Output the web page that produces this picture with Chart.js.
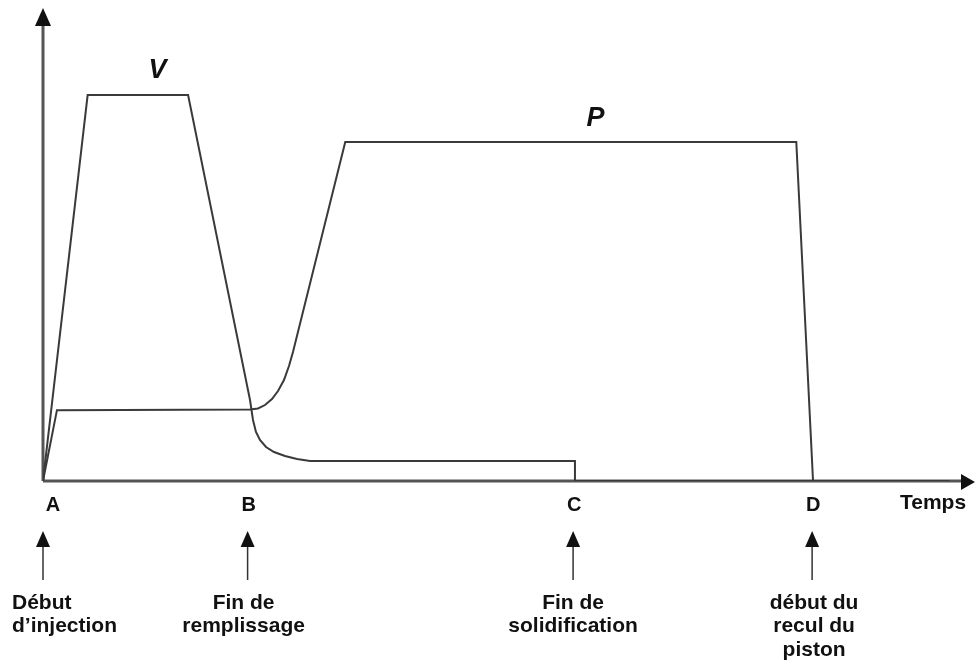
<!DOCTYPE html>
<html>
<head>
<meta charset="utf-8">
<script src="https://cdn.jsdelivr.net/npm/chart.js@4.4.1/dist/chart.umd.min.js"></script>
<style>
  html, body { margin: 0; padding: 0; background: #fff; }
  #wrap { width: 975px; height: 662px; position: relative; }
</style>
</head>
<body>
<div id="wrap"><canvas id="c"></canvas></div>
<script>
// time in arbitrary units (0 = A), value in % of full scale
const vTime = [0, 4.8, 15.6, 22.26, 22.58, 22.9, 23.33, 23.98, 24.84, 26.02, 27.31, 28.71, 57.2, 57.2, 97.5];
const vValue = [0, 82.3, 82.3, 17.27, 13.01, 10.45, 8.74, 7.25, 6.18, 5.33, 4.69, 4.26, 4.26, 0, 0];
const pTime = [0, 1.5, 22.26, 23.12, 23.87, 24.62, 25.27, 25.91, 26.45, 26.88, 32.5, 81.0, 82.8];
const pValue = [0, 15.1, 15.25, 15.46, 16.2, 17.48, 19.19, 21.54, 24.52, 27.51, 72.3, 72.3, 0];

const markerLabels = ['A', 'B', 'C', 'D'];
const markerTimes = [0, 22, 57, 82.7];
const markerNotes = [
    ['Début', 'd\u2019injection'],
    ['Fin de', 'remplissage'],
    ['Fin de', 'solidification'],
    ['début du', 'recul du', 'piston']
];
const axisTitle = 'Temps';
const axisTitleTime = 95.7;
const seriesNames = ['V', 'P'];
const seriesNamePos = [[12.3, 87.5], [59.4, 77.2]];

const FONT = '"Liberation Sans", Arial, Helvetica, sans-serif';

const toPoints = (xs, ys) => xs.map((x, i) => ({ x: x, y: ys[i] }));

const decor = {
    id: 'decor',
    beforeDatasetsDraw(chart) {
        const ctx = chart.ctx;
        const a = chart.chartArea;
        ctx.save();
        ctx.strokeStyle = '#555';
        ctx.fillStyle = '#111';
        ctx.lineWidth = 3;
        // y axis
        ctx.beginPath();
        ctx.moveTo(a.left, a.bottom);
        ctx.lineTo(a.left, a.top + 12);
        ctx.stroke();
        ctx.beginPath();
        ctx.moveTo(a.left, a.top - 4);
        ctx.lineTo(a.left - 8, a.top + 14);
        ctx.lineTo(a.left + 8, a.top + 14);
        ctx.closePath();
        ctx.fill();
        // x axis
        ctx.beginPath();
        ctx.moveTo(a.left, a.bottom);
        ctx.lineTo(a.right - 10, a.bottom);
        ctx.stroke();
        ctx.beginPath();
        ctx.moveTo(a.right + 2, a.bottom + 1);
        ctx.lineTo(a.right - 12, a.bottom - 7);
        ctx.lineTo(a.right - 12, a.bottom + 9);
        ctx.closePath();
        ctx.fill();
        ctx.restore();
    },
    afterDraw(chart) {
        const ctx = chart.ctx;
        const xs = chart.scales.x;
        const ys = chart.scales.y;
        const a = chart.chartArea;
        ctx.save();
        ctx.fillStyle = '#111';
        ctx.textBaseline = 'middle';
        ctx.textAlign = 'center';

        // series names
        ctx.font = 'italic bold 27px ' + FONT;
        seriesNames.forEach((n, i) => {
            ctx.fillText(n, xs.getPixelForValue(seriesNamePos[i][0]), ys.getPixelForValue(seriesNamePos[i][1]));
        });

        // markers
        markerLabels.forEach((lab, i) => {
            const px = xs.getPixelForValue(markerTimes[i]);
            ctx.font = 'bold 20px ' + FONT;
            ctx.textAlign = 'center';
            ctx.fillText(lab, i === 0 ? px + 10 : px + 1, a.bottom + 24);
            // arrow
            ctx.strokeStyle = '#333';
            ctx.lineWidth = 1.5;
            ctx.beginPath();
            ctx.moveTo(px, a.bottom + 99);
            ctx.lineTo(px, a.bottom + 62);
            ctx.stroke();
            ctx.beginPath();
            ctx.moveTo(px, a.bottom + 50);
            ctx.lineTo(px - 7, a.bottom + 66);
            ctx.lineTo(px + 7, a.bottom + 66);
            ctx.closePath();
            ctx.fill();
            // note
            ctx.font = 'bold 21px ' + FONT;
            let tx = px;
            if (i === 0) {
                ctx.textAlign = 'left';
                tx = px - 31;
            } else {
                ctx.textAlign = 'center';
                tx = px + (i === 1 ? -4 : (i === 3 ? 2 : 0));
            }
            markerNotes[i].forEach((line, j) => {
                ctx.fillText(line, tx, a.bottom + 122 + j * 23.5);
            });
        });

        ctx.font = 'bold 21px ' + FONT;
        ctx.textAlign = 'center';
        ctx.fillText(axisTitle, xs.getPixelForValue(axisTitleTime), a.bottom + 22);
        ctx.restore();
    }
};

new Chart(document.getElementById('c').getContext('2d'), {
    type: 'line',
    data: {
        datasets: [
            {
                label: 'V',
                data: toPoints(vTime, vValue),
                borderColor: '#3a3a3a',
                borderWidth: 2,
                pointRadius: 0,
                tension: 0,
                fill: false
            },
            {
                label: 'P',
                data: toPoints(pTime, pValue),
                borderColor: '#3a3a3a',
                borderWidth: 2,
                pointRadius: 0,
                tension: 0,
                fill: false
            }
        ]
    },
    options: {
        responsive: true,
        maintainAspectRatio: false,
        animation: false,
        layout: { padding: { left: 43, right: 2, top: 12, bottom: 181 } },
        plugins: {
            legend: { display: false },
            tooltip: { enabled: false }
        },
        scales: {
            x: { type: 'linear', min: 0, max: 100, display: false },
            y: { min: 0, max: 100, display: false }
        }
    },
    plugins: [decor]
});
</script>
</body>
</html>
